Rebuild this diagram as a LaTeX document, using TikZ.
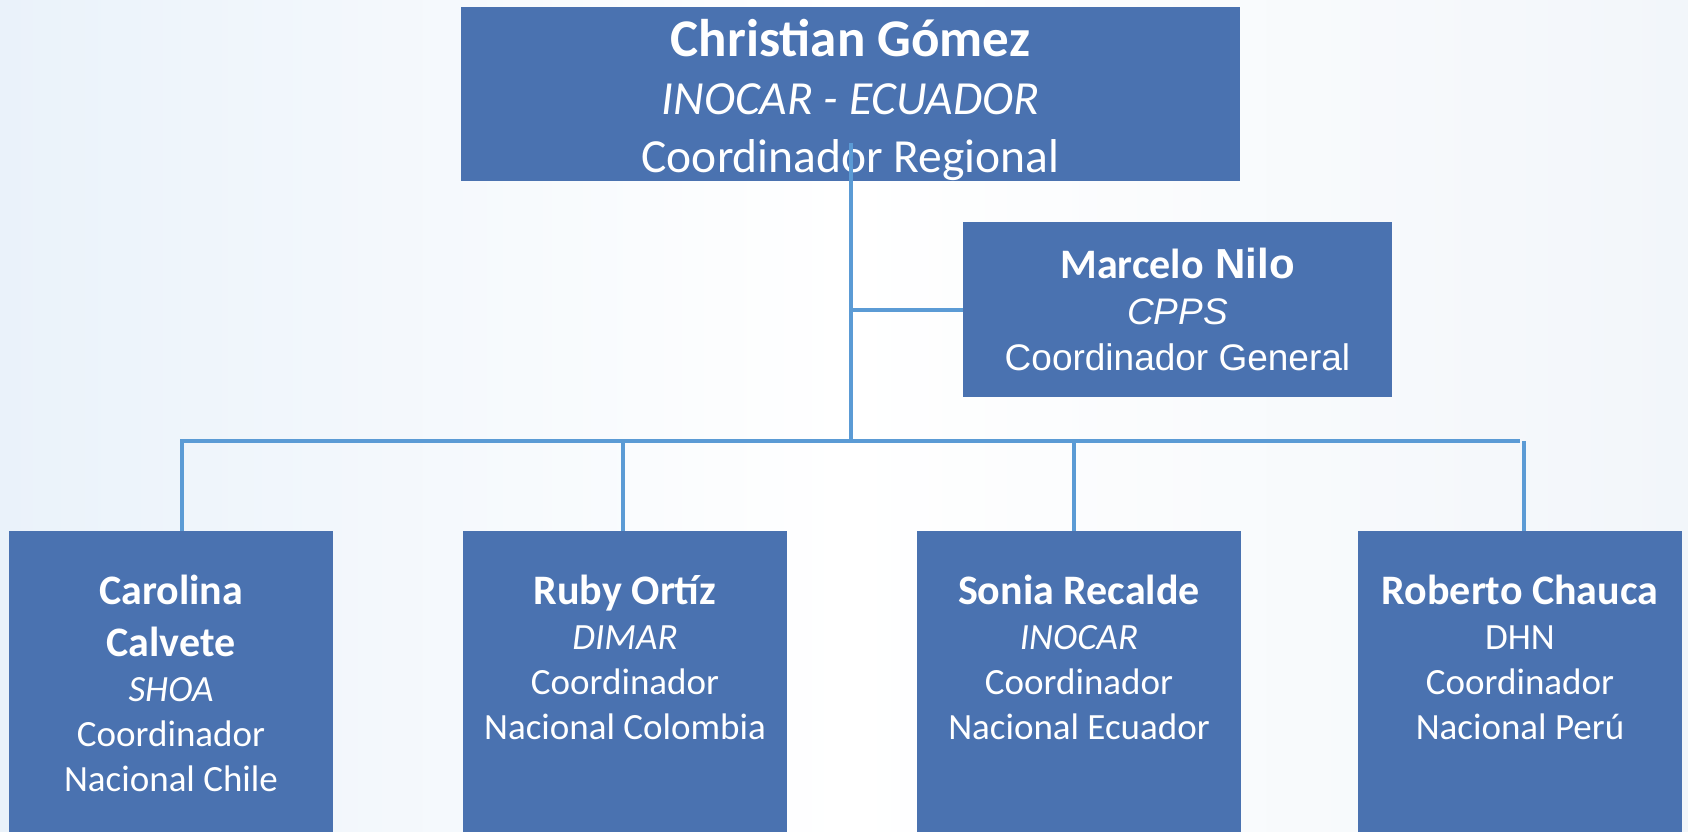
\documentclass[tikz,border=0pt]{standalone}
\usepackage{fontspec}
\setmainfont{Carlito}
\newfontfamily\arialf{Liberation Sans}
\usetikzlibrary{calc}
\definecolor{boxblue}{RGB}{74,114,176}
\definecolor{linkblue}{RGB}{91,155,213}
\definecolor{bgleft}{RGB}{234,242,250}
\definecolor{bgright}{RGB}{242,246,250}
\tikzset{
  orgbox/.style={fill=boxblue, draw=none, inner sep=0pt, outer sep=0pt, text=white, align=center},
  lowbox/.style={orgbox, anchor=north, minimum width=162pt, minimum height=155pt},
  lowtext/.style={anchor=north, inner sep=0pt, text=white, align=center, font=\fontsize{18.5}{22.5}\selectfont},
  link/.style={draw=linkblue, line width=2pt}
}
\newcommand{\nmline}[1]{{\bfseries\fontsize{21}{22.5}\selectfont #1}}
\begin{document}
\begin{tikzpicture}[x=0.5pt,y=-0.5pt]
\useasboundingbox (0,0) rectangle (1688,831);
\shade[left color=bgleft, right color=bgright, middle color=white] (0,0) rectangle (1688,831);

% boxes
\node[orgbox, minimum width=389.5pt, minimum height=87pt] (top) at (850.5,94) {};
\node[inner sep=0pt, text=white, align=center,
      font=\fontsize{23.75}{29}\selectfont] (toptxt) at (850.5,99.5)
  {{\bfseries\fontsize{26.5}{29}\selectfont Christian Gómez}\\
   \itshape INOCAR - ECUADOR\\
   Coordinador Regional};

\node[orgbox, minimum width=214.5pt, minimum height=87.5pt,
      font=\arialf\fontsize{18.5}{23}\selectfont] (marcelo) at (1177.5,309.5)
  {{\fontsize{21}{23}\selectfont{\rmfamily\bfseries Marcelo} {\bfseries Nilo}}\\
   {\itshape CPPS}\\
   Coordinador General};

\node[lowbox] (carolina) at (171,531) {};
\node[lowbox] (ruby) at (625,531) {};
\node[lowbox] (sonia) at (1079,531) {};
\node[lowbox] (roberto) at (1520,531) {};

\node[lowtext] (carolinatxt) at (171,575)
  {\nmline{Carolina}\\[3.5pt] \nmline{Calvete}\\ \textit{SHOA}\\ Coordinador\\ Nacional Chile};
\node[lowtext] (rubytxt) at (625,575)
  {\nmline{Ruby Ortíz}\\ \textit{DIMAR}\\ Coordinador\\ Nacional Colombia};
\node[lowtext] (soniatxt) at (1079,575)
  {\nmline{Sonia Recalde}\\ \textit{INOCAR}\\ Coordinador\\ Nacional Ecuador};
\node[lowtext] (robertotxt) at (1520,575)
  {\nmline{Roberto Chauca}\\ DHN\\ Coordinador\\ Nacional Perú};

% connectors
\coordinate (j1) at (851,310);
\coordinate (hub) at (851,441);
\coordinate (busL) at (182,441);
\coordinate (busR) at (1520,441);
\coordinate (d2) at (623,441);
\coordinate (d3) at (1074,441);
\coordinate (d4) at (1524,441);

\draw[link] ([yshift=19pt]top.south -| hub) -- (hub);
\draw[link] (j1) -- (marcelo.west |- j1);
\draw[link] (carolina.north -| busL) -- (busL) -- (busR);
\draw[link] (d2) -- (ruby.north -| d2);
\draw[link] (d3) -- (sonia.north -| d3);
\draw[link] (d4) -- (roberto.north -| d4);
\end{tikzpicture}
\end{document}
